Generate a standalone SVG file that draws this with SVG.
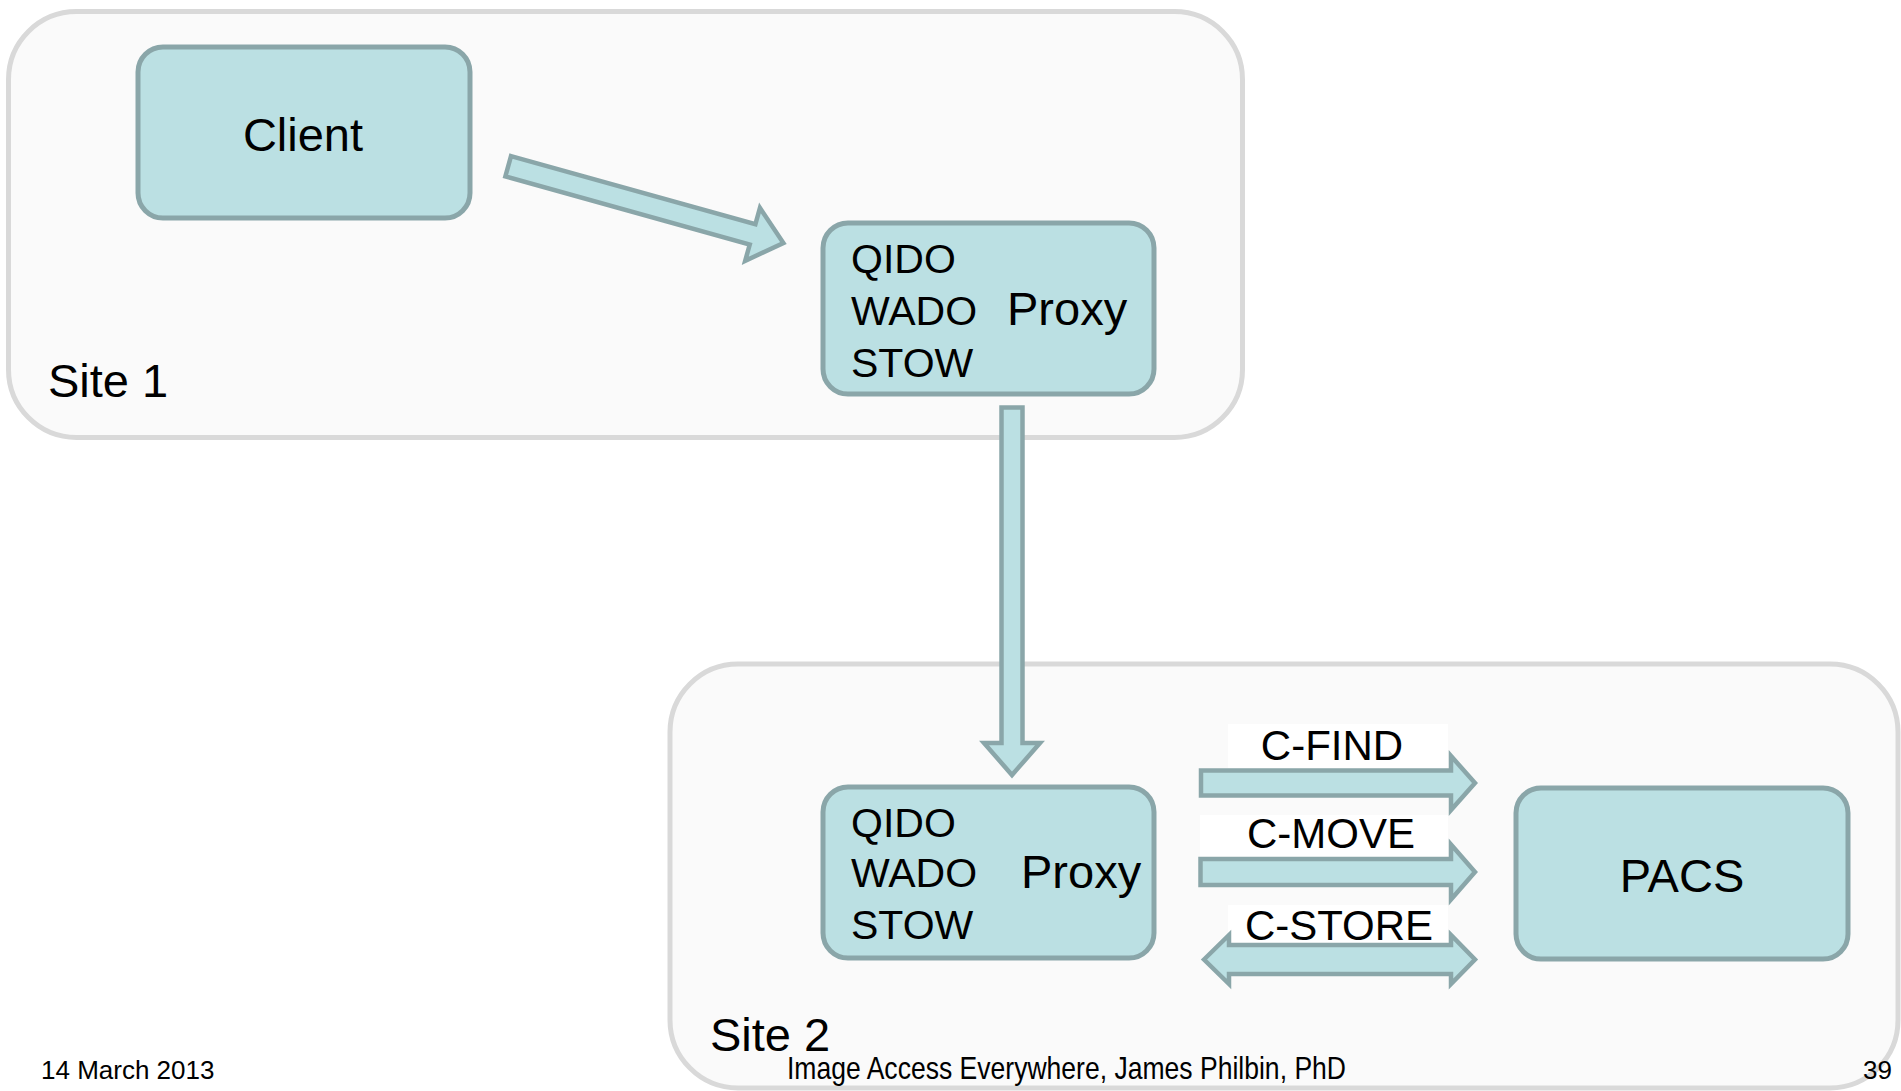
<svg xmlns="http://www.w3.org/2000/svg" width="1901" height="1091" viewBox="0 0 1901 1091">
<style>
.site{fill:#fafafa;stroke:#d9d9d9;stroke-width:5}
.node{fill:#bbe0e3;stroke:#8aa6a9;stroke-width:5}
.arr{fill:#bbe0e3;stroke:#8aa6a9;stroke-width:4.5;stroke-linejoin:miter;stroke-miterlimit:10}
text{font-family:"Liberation Sans",Arial,sans-serif;fill:#000}
.big{font-size:47px}
.mid{font-size:41px}
.lbl{font-size:42px;text-anchor:middle}
.foot{font-size:26px}
.lblbg{fill:#ffffff}
</style>
<rect width="1901" height="1091" fill="#ffffff"/>
<g id="site1">
<rect class="site" x="8.5" y="11.5" width="1234" height="426" rx="68" ry="68"/>
<text class="big" x="48" y="397">Site 1</text>
</g>
<g id="site2">
<rect class="site" x="670" y="664" width="1228" height="424" rx="68" ry="68"/>
<text class="big" x="710" y="1050.5">Site 2</text>
</g>
<g id="client">
<rect class="node" x="138" y="47" width="332" height="171" rx="25" ry="25"/>
<text class="big" x="303" y="151" text-anchor="middle">Client</text>
</g>
<g id="proxy1">
<rect class="node" x="823" y="223" width="331" height="171" rx="25" ry="25"/>
<text class="mid" x="851" y="273">QIDO</text>
<text class="mid" x="851" y="325">WADO</text>
<text class="mid" x="851" y="376.5">STOW</text>
<text class="big" x="1007" y="325">Proxy</text>
</g>
<g id="proxy2">
<rect class="node" x="823" y="787" width="331" height="171" rx="25" ry="25"/>
<text class="mid" x="851" y="837">QIDO</text>
<text class="mid" x="851" y="887">WADO</text>
<text class="mid" x="851" y="939">STOW</text>
<text class="big" x="1021" y="888">Proxy</text>
</g>
<g id="pacs">
<rect class="node" x="1516" y="788" width="332" height="171" rx="25" ry="25"/>
<text class="big" x="1682" y="892" text-anchor="middle">PACS</text>
</g>
<g id="connectors">
<polygon class="arr" transform="translate(508.2,166.2) rotate(15.59)" points="0,-10.5 253.7,-10.5 253.7,-27.5 285.7,0 253.7,27.5 253.7,10.5 0,10.5"/>
<polygon class="arr" points="1001.5,407.5 1022.5,407.5 1022.5,743 1040,743 1012,775 984,743 1001.5,743"/>
<rect class="lblbg" x="1228" y="724" width="220" height="44"/>
<rect class="lblbg" x="1200" y="815" width="248" height="42"/>
<rect class="lblbg" x="1228" y="905" width="220" height="38"/>
<polygon class="arr" points="1201,770.5 1451,770.5 1451,756 1475,783 1451,810 1451,795.5 1201,795.5"/>
<polygon class="arr" points="1200.5,859 1451,859 1451,844.5 1475,872 1451,899.5 1451,885 1200.5,885"/>
<polygon class="arr" points="1204,959.5 1229,935 1229,945 1451,945 1451,935 1475,959.5 1451,984 1451,974 1229,974 1229,984"/>
<text class="lbl" x="1332" y="760">C-FIND</text>
<text class="lbl" x="1331" y="848">C-MOVE</text>
<text class="lbl" x="1339" y="940">C-STORE</text>
</g>
<g id="footer">
<text class="foot" x="41" y="1079">14 March 2013</text>
<text x="787" y="1078.5" style="font-size:32px" textLength="559" lengthAdjust="spacingAndGlyphs">Image Access Everywhere, James Philbin, PhD</text>
<text class="foot" x="1863" y="1079">39</text>
</g>
</svg>
